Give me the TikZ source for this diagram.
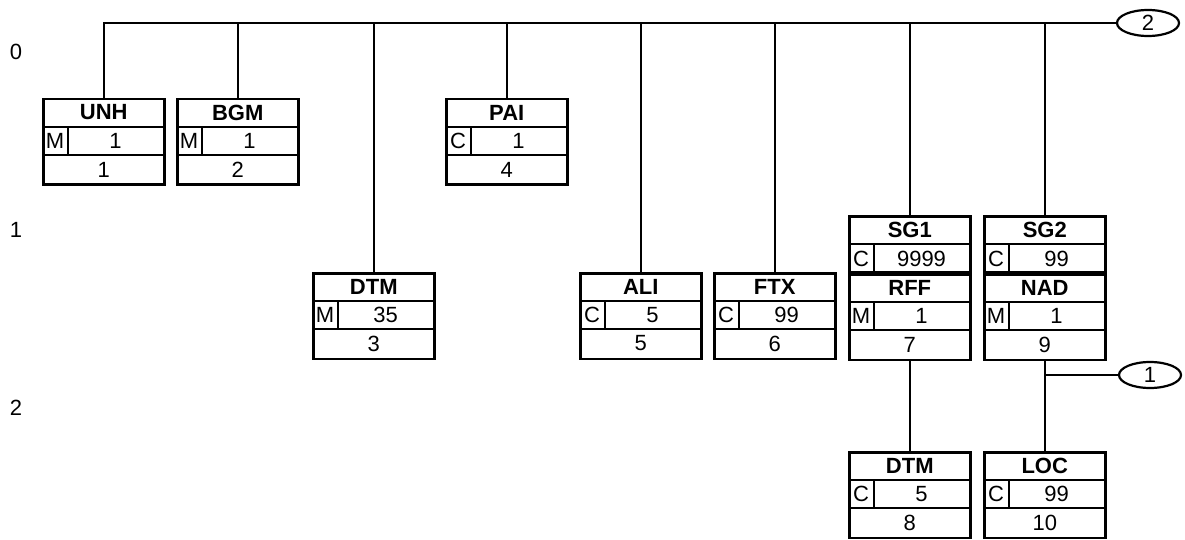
\documentclass[tikz,border=0pt]{standalone}
\usepackage{fontspec}
\setmainfont{Liberation Sans}
\usetikzlibrary{shapes.geometric}
\tikzset{
  segframe/.style={draw, line width=2.5pt, minimum width=121pt, minimum height=85.5pt, inner sep=0pt, anchor=north west},
  grpframe/.style={draw, line width=2.5pt, minimum width=121pt, minimum height=58pt, inner sep=0pt, anchor=north west},
  div/.style={line width=2.2pt},
  conn/.style={line width=2.5pt},
  txt/.style={font=\fontsize{22}{24}\selectfont, inner sep=0pt},
  ttl/.style={font=\fontsize{22}{24}\selectfont\bfseries, inner sep=0pt},
  lvl/.style={font=\fontsize{22}{24}\selectfont, inner sep=0pt},
  oval/.style={draw, ellipse, line width=2.2pt, minimum width=62pt, minimum height=26pt, inner sep=0pt, font=\fontsize{22}{24}\selectfont}
}
\newcommand\segbox[7]{%
  \node[segframe] (#1) at (#2,#3) {};
  \draw[div] ([yshift=-29pt]#1.north west) -- ([yshift=-29pt]#1.north east);
  \draw[div] ([yshift=-57pt]#1.north west) -- ([yshift=-57pt]#1.north east);
  \draw[div] ([shift={(26pt,-29pt)}]#1.north west) -- ([shift={(26pt,-57pt)}]#1.north west);
  \node[ttl] (#1-t) at ([yshift=-14.5pt]#1.north) {#4};
  \node[txt] (#1-s) at ([shift={(13pt,-43pt)}]#1.north west) {#5};
  \node[txt] (#1-r) at ([shift={(73.5pt,-43pt)}]#1.north west) {#6};
  \node[txt] (#1-n) at ([yshift=-71.5pt]#1.north) {#7};
}
\newcommand\grpbox[6]{%
  \node[grpframe] (#1) at (#2,#3) {};
  \draw[div] ([yshift=-29pt]#1.north west) -- ([yshift=-29pt]#1.north east);
  \draw[div] ([shift={(26pt,-29pt)}]#1.north west) -- ([shift={(26pt,0pt)}]#1.south west);
  \node[ttl] (#1-t) at ([yshift=-14.5pt]#1.north) {#4};
  \node[txt] (#1-s) at ([shift={(13pt,-43.5pt)}]#1.north west) {#5};
  \node[txt] (#1-r) at ([shift={(73.5pt,-43.5pt)}]#1.north west) {#6};
}
\begin{document}
\begin{tikzpicture}[x=1pt,y=-1pt]
\useasboundingbox (0,0) rectangle (1185,540);
% level labels
\node[lvl] (l0) at (16,52) {0};
\node[lvl] (l1) at (16,230) {1};
\node[lvl] (l2) at (16,408) {2};
% boxes
\segbox{unh}{42}{98}{UNH}{M}{1}{1}
\segbox{bgm}{176}{98}{BGM}{M}{1}{2}
\segbox{pai}{445}{98}{PAI}{C}{1}{4}
\segbox{dtma}{312}{272}{DTM}{M}{35}{3}
\segbox{ali}{579}{272}{ALI}{C}{5}{5}
\segbox{ftx}{713}{272}{FTX}{C}{99}{6}
\grpbox{sga}{848}{215}{SG1}{C}{9999}
\segbox{rff}{848}{273}{RFF}{M}{1}{7}
\grpbox{sgb}{983}{215}{SG2}{C}{99}
\segbox{nad}{983}{273}{NAD}{M}{1}{9}
\segbox{dtmb}{848}{451}{DTM}{C}{5}{8}
\segbox{loc}{983}{451}{LOC}{C}{99}{10}
\draw[line width=4pt] (rff.north west) -- (rff.north east);
\draw[line width=4pt] (nad.north west) -- (nad.north east);
% ovals
\node[oval] (c2) at (1148,23) {2};
\node[oval] (c1) at (1150,375) {1};
% connectors
\draw[conn] (unh.north) |- (c2.west);
\foreach \b in {bgm,pai,dtma,ali,ftx,sga,sgb}{
  \draw[conn] (\b.north) -- (\b.north |- c2.west);
}
\draw[conn] (rff.south) -- (dtmb.north);
\draw[conn] (nad.south) -- (loc.north);
\draw[conn] (nad.south |- c1.west) -- (c1.west);
\end{tikzpicture}
\end{document}
